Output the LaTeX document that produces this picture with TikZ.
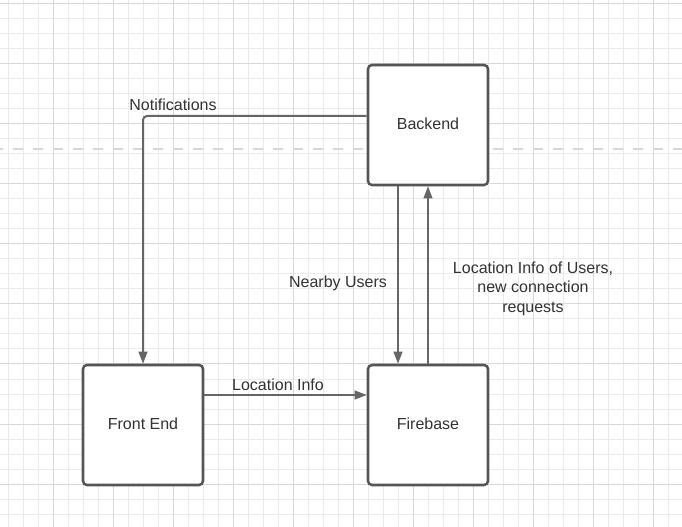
\documentclass[tikz,border=0pt]{standalone}
\usepackage{fontspec}
\setmainfont{Liberation Sans}
\usetikzlibrary{arrows.meta}
\definecolor{minorgrid}{HTML}{EBEBEB}
\definecolor{majorgrid}{HTML}{D9D9D9}
\definecolor{dashgray}{HTML}{D8D8D8}
\definecolor{boxline}{HTML}{555555}
\definecolor{arrline}{HTML}{666666}
\definecolor{txt}{HTML}{333333}
\tikzset{
  minorline/.style={draw=minorgrid, line width=0.75pt},
  majorline/.style={draw=majorgrid, line width=0.75pt},
  boxnode/.style={draw=boxline, line width=1.9pt, rounded corners=3pt, fill=white,
    minimum width=90pt, minimum height=90pt, inner sep=0pt, text=txt,
    font=\fontsize{12}{14.6}\selectfont},
  arr/.style={draw=arrline, line width=1.5pt, -{Triangle[length=9pt,width=6.5pt]}},
  lbl/.style={text=txt, font=\fontsize{12}{14.6}\selectfont, inner sep=0pt, align=center},
}
\begin{document}
\begin{tikzpicture}[x=0.75pt,y=-0.75pt]
\useasboundingbox (0,0) rectangle (682,527);
\fill[white] (0,0) rectangle (682,527);
% grid
\foreach \i in {0,...,45} {
  \draw[minorline] ({8+15*\i},0) -- ({8+15*\i},527);
}
\foreach \j in {0,...,35} {
  \draw[minorline] (0,{4+15*\j}) -- (682,{4+15*\j});
}
\foreach \i in {-1,...,11} {
  \draw[majorline] ({53+60*\i},0) -- ({53+60*\i},527);
}
\foreach \j in {0,...,8} {
  \draw[majorline] (0,{4+60*\j}) -- (682,{4+60*\j});
}
% dashed separator
\draw[draw=dashgray, line width=2pt, dash pattern=on 7.5pt off 7.5pt] (-7,149) -- (690,149);
% boxes
\node[boxnode] (backend) at (428,125) {\raisebox{1.5pt}{Backend}};
\node[boxnode] (front) at (143,425) {\raisebox{1.5pt}{Front End}};
\node[boxnode] (firebase) at (428,425) {\raisebox{1.5pt}{Firebase}};
% connectors
\draw[arr, rounded corners=3pt] ([yshift=6.75pt]backend.west) -| (front.north);
\draw[arr] ([xshift=-22.5pt]backend.south) -- ([xshift=-22.5pt]firebase.north);
\draw[arr] (firebase.north) -- (backend.south);
\draw[arr] ([yshift=22.5pt]front.east) -- ([yshift=22.5pt]firebase.west);
% labels
\node[lbl] (lnotif) at (173,104.5) {Notifications};
\node[lbl] (lnear) at (338,283) {Nearby Users};
\node[lbl] (lloc) at (278,384.5) {Location Info};
\node[lbl] (lusers) at (533,288.5) {Location Info of Users,\\new connection\\requests};
\end{tikzpicture}
\end{document}
